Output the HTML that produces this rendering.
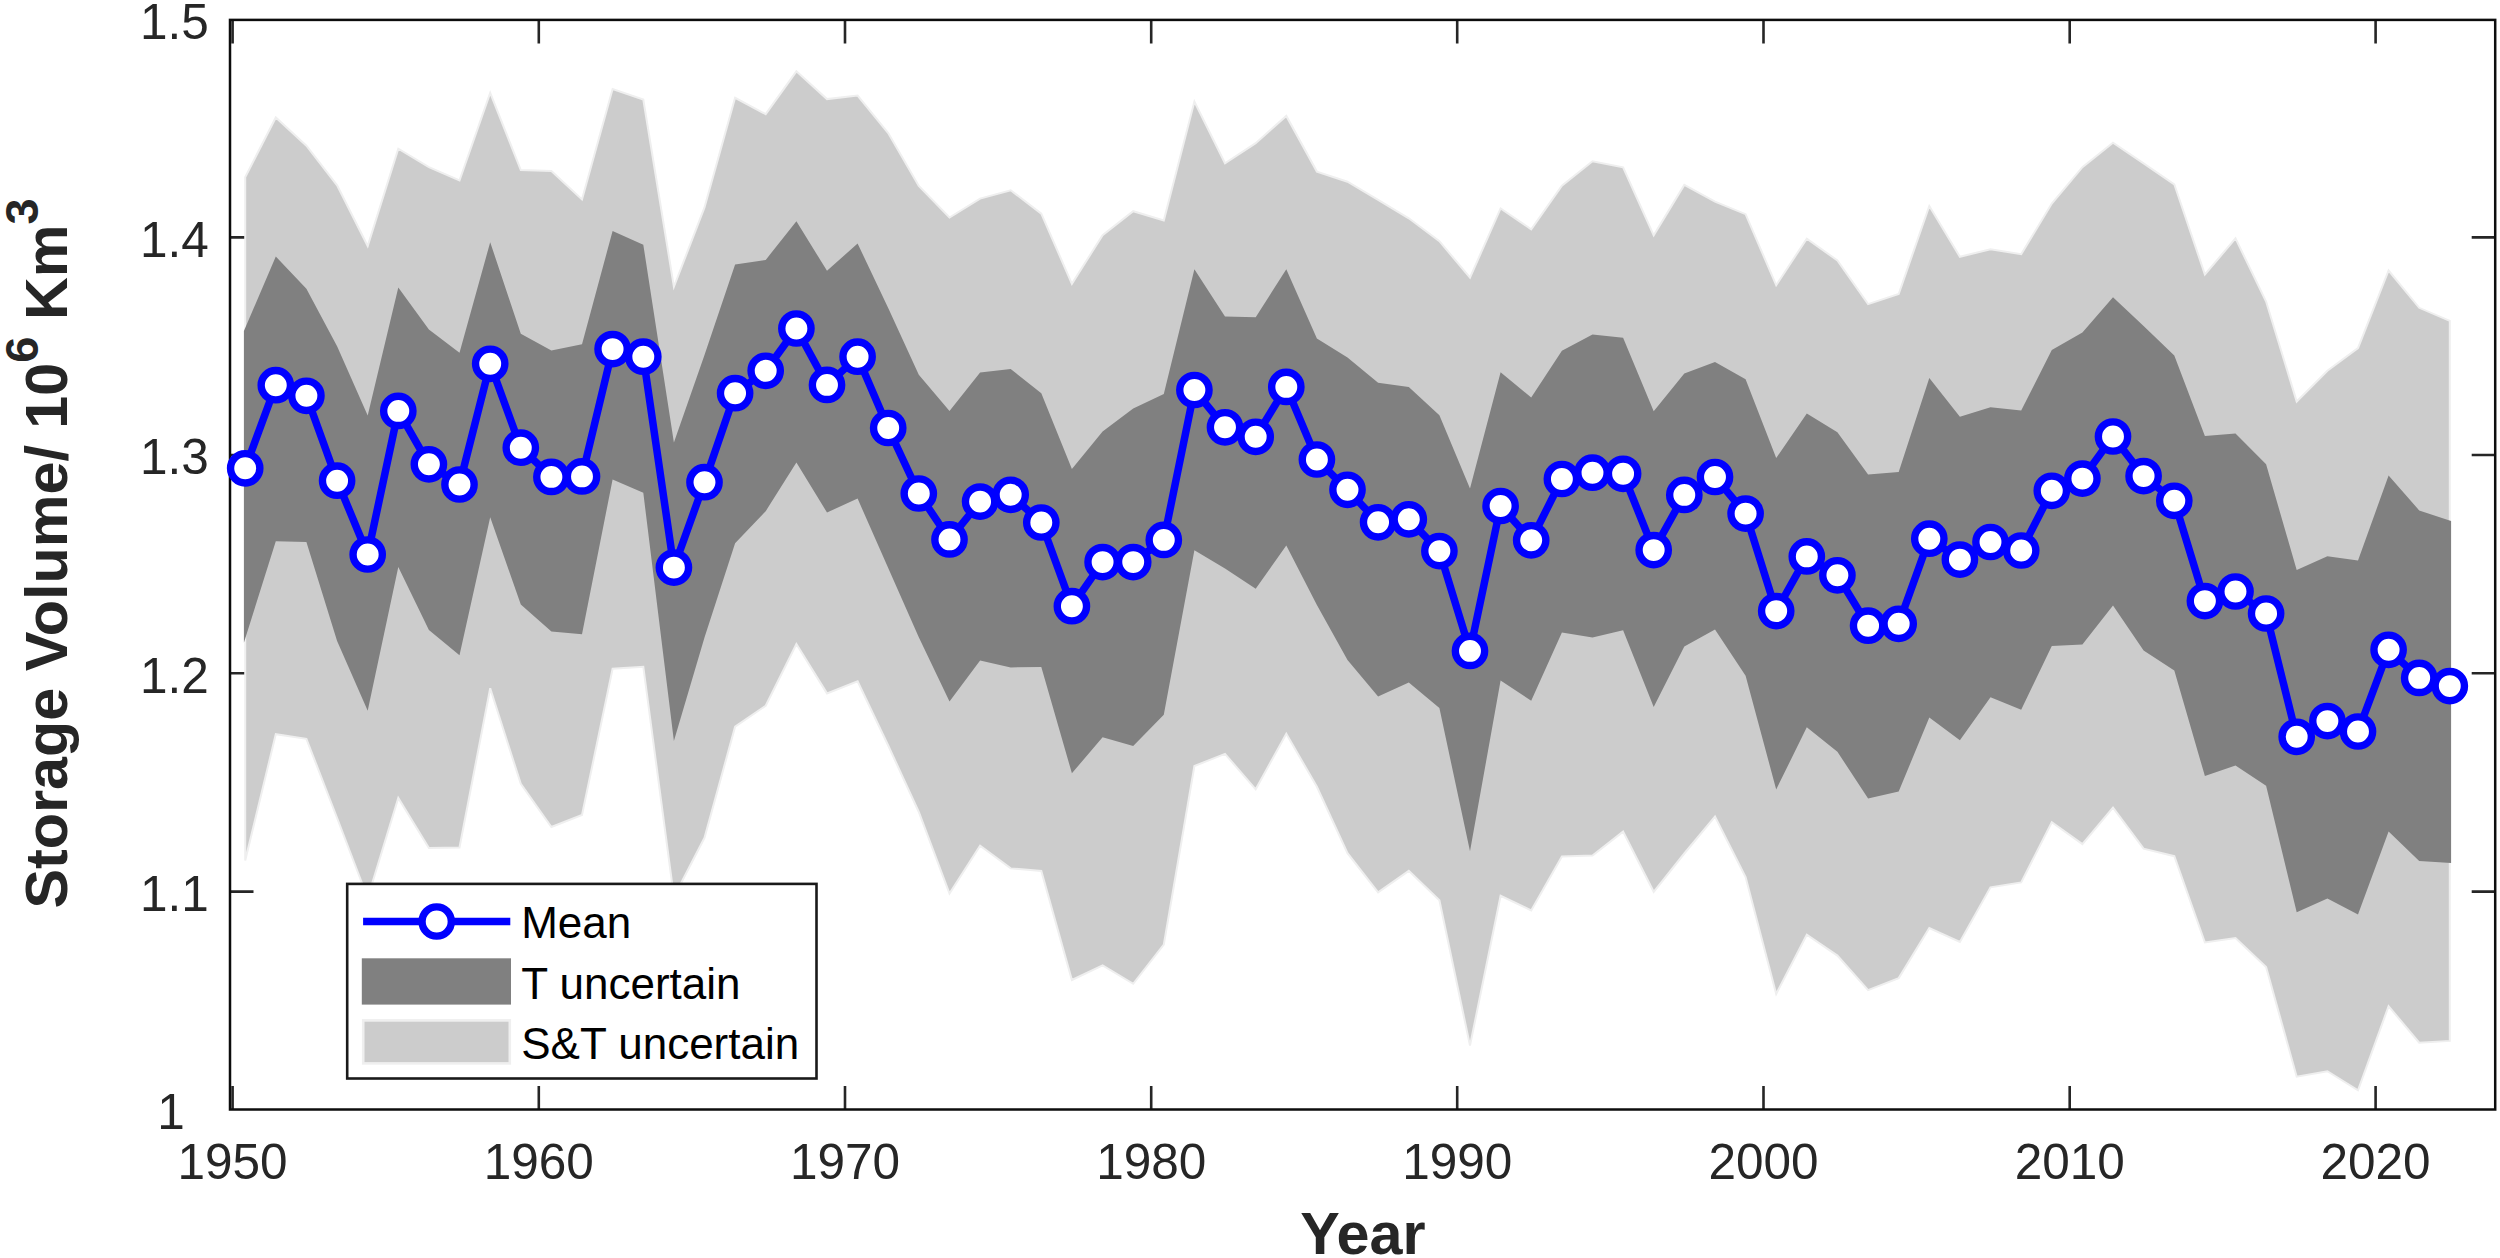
<!DOCTYPE html>
<html lang="en"><head><meta charset="utf-8"><title>Storage Volume</title>
<style>
html,body{margin:0;padding:0;background:#fff;}
body{width:2500px;height:1258px;overflow:hidden;}
svg{display:block;}
text{font-family:"Liberation Sans", sans-serif;fill:#262626;}
.tk{font-size:49.5px;}
.lb{font-size:59.3px;font-weight:bold;}
.lg{font-size:44px;fill:#000;}
</style></head><body>
<svg width="2500" height="1258" viewBox="0 0 2500 1258">
<rect width="2500" height="1258" fill="#fff"/>
<path d="M232.6 1109.5v-23.5M232.6 19.9v23.5M538.8 1109.5v-23.5M538.8 19.9v23.5M845.0 1109.5v-23.5M845.0 19.9v23.5M1151.2 1109.5v-23.5M1151.2 19.9v23.5M1457.2 1109.5v-23.5M1457.2 19.9v23.5M1763.5 1109.5v-23.5M1763.5 19.9v23.5M2069.7 1109.5v-23.5M2069.7 19.9v23.5M2375.6 1109.5v-23.5M2375.6 19.9v23.5M230.0 237.4h23.5M2495.2 237.4h-23.5M230.0 455.0h23.5M2495.2 455.0h-23.5M230.0 673.3h23.5M2495.2 673.3h-23.5M230.0 891.6h23.5M2495.2 891.6h-23.5" stroke="#262626" stroke-width="2.6" fill="none"/>
<polygon points="245.2,177.2 275.8,117.5 306.4,145.7 337.1,185.3 367.7,246.0 398.3,148.7 428.9,167.1 459.5,180.5 490.2,92.8 520.8,170.1 551.4,170.9 582.0,199.4 612.6,89.0 643.3,99.6 673.9,286.8 704.5,207.4 735.1,97.8 765.7,114.2 796.4,71.3 827.0,99.1 857.6,95.5 888.2,133.1 918.8,186.0 949.5,217.5 980.1,198.6 1010.7,190.3 1041.3,213.7 1071.9,283.8 1102.6,235.2 1133.2,211.2 1163.8,220.5 1194.4,101.6 1225.0,163.3 1255.7,143.2 1286.3,115.9 1316.9,171.6 1347.5,181.7 1378.1,199.9 1408.8,218.3 1439.4,241.2 1470.0,277.7 1500.6,208.4 1531.2,229.3 1561.9,185.7 1592.5,161.2 1623.1,167.3 1653.7,235.3 1684.3,184.9 1715.0,201.6 1745.6,214.2 1776.2,285.2 1806.8,238.6 1837.4,260.5 1868.1,304.1 1898.7,294.0 1929.3,206.0 1959.9,256.8 1990.5,249.2 2021.2,254.2 2051.8,203.6 2082.4,167.1 2113.0,142.7 2143.6,163.3 2174.3,184.3 2204.9,274.5 2235.5,238.4 2266.1,301.5 2296.7,401.5 2327.4,370.8 2358.0,348.1 2388.6,270.5 2419.2,307.8 2449.8,320.9 2449.8,1040.9 2419.2,1042.7 2388.6,1006.2 2358.0,1090.3 2327.4,1071.2 2296.7,1076.7 2266.1,967.1 2235.5,938.1 2204.9,942.5 2174.3,856.2 2143.6,848.7 2113.0,807.6 2082.4,844.1 2051.8,822.2 2021.2,882.4 1990.5,887.3 1959.9,942.0 1929.3,928.0 1898.7,978.1 1868.1,990.1 1837.4,955.6 1806.8,934.7 1776.2,993.9 1745.6,877.0 1715.0,816.5 1684.3,853.5 1653.7,891.8 1623.1,831.6 1592.5,855.5 1561.9,856.5 1531.2,910.4 1500.6,895.8 1470.0,1045.6 1439.4,900.3 1408.8,870.9 1378.1,892.3 1347.5,853.2 1316.9,786.8 1286.3,733.7 1255.7,789.3 1225.0,753.9 1194.4,766.0 1163.8,944.7 1133.2,983.8 1102.6,965.4 1071.9,980.0 1041.3,870.9 1010.7,868.4 980.1,845.7 949.5,893.6 918.8,812.0 888.2,745.5 857.6,681.3 827.0,693.4 796.4,644.0 765.7,705.7 735.1,726.7 704.5,837.8 673.9,897.0 643.3,666.7 612.6,668.7 582.0,815.0 551.4,827.0 520.8,783.9 490.2,688.3 459.5,847.4 428.9,847.9 398.3,798.0 367.7,898.0 337.1,818.0 306.4,738.8 275.8,734.2 245.2,860.5" fill="#cccccc" stroke="#efefef" stroke-width="2" stroke-linejoin="miter"/>
<polygon points="243.9,331.0 275.8,256.6 306.4,288.8 337.1,346.3 367.7,415.4 398.3,287.6 428.9,329.4 459.5,352.8 490.2,242.2 520.8,333.7 551.4,350.5 582.0,344.2 612.6,230.9 643.3,244.7 673.9,442.4 704.5,355.0 735.1,264.6 765.7,259.9 796.4,221.3 827.0,270.8 857.6,243.5 888.2,308.0 918.8,374.8 949.5,410.9 980.1,372.4 1010.7,369.1 1041.3,393.2 1071.9,468.9 1102.6,431.6 1133.2,408.4 1163.8,394.0 1194.4,269.2 1225.0,316.5 1255.7,317.3 1286.3,269.2 1316.9,338.5 1347.5,357.4 1378.1,382.7 1408.8,386.9 1439.4,415.2 1470.0,488.4 1500.6,372.2 1531.2,397.5 1561.9,350.8 1592.5,334.4 1623.1,337.7 1653.7,411.3 1684.3,373.4 1715.0,362.1 1745.6,379.2 1776.2,458.1 1806.8,413.6 1837.4,432.2 1868.1,474.5 1898.7,472.0 1929.3,378.1 1959.9,416.8 1990.5,407.3 2021.2,410.6 2051.8,350.0 2082.4,332.4 2113.0,297.2 2143.6,326.0 2174.3,355.6 2204.9,436.0 2235.5,433.6 2266.1,464.3 2296.7,570.1 2327.4,556.3 2358.0,560.5 2388.6,475.6 2419.2,510.4 2451.1,521.0 2451.1,863.0 2419.2,861.0 2388.6,831.5 2358.0,914.4 2327.4,898.4 2296.7,912.2 2266.1,785.7 2235.5,765.5 2204.9,776.1 2174.3,670.6 2143.6,650.5 2113.0,605.4 2082.4,644.5 2051.8,646.0 2021.2,709.8 1990.5,697.2 1959.9,740.2 1929.3,717.4 1898.7,791.6 1868.1,798.6 1837.4,751.7 1806.8,727.3 1776.2,789.5 1745.6,675.8 1715.0,629.5 1684.3,646.6 1653.7,707.1 1623.1,630.2 1592.5,637.4 1561.9,632.4 1531.2,700.8 1500.6,680.6 1470.0,851.3 1439.4,708.1 1408.8,682.5 1378.1,696.4 1347.5,659.9 1316.9,605.0 1286.3,545.4 1255.7,588.7 1225.0,568.5 1194.4,550.2 1163.8,714.8 1133.2,746.1 1102.6,737.2 1071.9,773.3 1041.3,666.9 1010.7,667.4 980.1,660.6 949.5,701.5 918.8,637.2 888.2,568.0 857.6,498.6 827.0,512.5 796.4,462.6 765.7,511.2 735.1,543.2 704.5,637.5 673.9,741.0 643.3,492.8 612.6,479.4 582.0,634.2 551.4,631.4 520.8,604.6 490.2,517.2 459.5,655.3 428.9,630.1 398.3,567.1 367.7,710.8 337.1,641.0 306.4,542.0 275.8,541.3 243.9,642.7" fill="#808080"/>
<rect x="230.0" y="19.9" width="2265.2" height="1089.6" fill="none" stroke="#0d0d0d" stroke-width="2.5"/>
<polyline points="245.2,468.3 275.8,385.2 306.4,395.8 337.1,480.7 367.7,554.5 398.3,410.9 428.9,464.3 459.5,484.5 490.2,363.8 520.8,447.7 551.4,476.9 582.0,476.4 612.6,349.1 643.3,356.7 673.9,567.6 704.5,482.2 735.1,393.2 765.7,370.8 796.4,328.5 827.0,384.9 857.6,356.7 888.2,428.0 918.8,493.5 949.5,539.4 980.1,501.6 1010.7,494.8 1041.3,522.5 1071.9,606.2 1102.6,562.1 1133.2,562.1 1163.8,539.9 1194.4,390.0 1225.0,427.3 1255.7,436.8 1286.3,386.9 1316.9,459.5 1347.5,489.8 1378.1,522.3 1408.8,519.3 1439.4,551.1 1470.0,650.9 1500.6,506.0 1531.2,540.3 1561.9,479.0 1592.5,472.7 1623.1,473.8 1653.7,550.1 1684.3,494.9 1715.0,477.0 1745.6,513.6 1776.2,611.1 1806.8,556.4 1837.4,575.3 1868.1,625.7 1898.7,623.8 1929.3,538.7 1959.9,559.6 1990.5,542.0 2021.2,550.5 2051.8,490.8 2082.4,478.6 2113.0,436.5 2143.6,476.1 2174.3,500.8 2204.9,601.1 2235.5,591.5 2266.1,613.5 2296.7,736.8 2327.4,721.1 2358.0,731.5 2388.6,649.8 2419.2,677.9 2449.8,686.1" fill="none" stroke="#0000ff" stroke-width="7.5" stroke-linejoin="round"/>
<g fill="#fff" stroke="#0000ff" stroke-width="7.4"><circle cx="245.2" cy="468.3" r="14.65"/><circle cx="275.8" cy="385.2" r="14.65"/><circle cx="306.4" cy="395.8" r="14.65"/><circle cx="337.1" cy="480.7" r="14.65"/><circle cx="367.7" cy="554.5" r="14.65"/><circle cx="398.3" cy="410.9" r="14.65"/><circle cx="428.9" cy="464.3" r="14.65"/><circle cx="459.5" cy="484.5" r="14.65"/><circle cx="490.2" cy="363.8" r="14.65"/><circle cx="520.8" cy="447.7" r="14.65"/><circle cx="551.4" cy="476.9" r="14.65"/><circle cx="582.0" cy="476.4" r="14.65"/><circle cx="612.6" cy="349.1" r="14.65"/><circle cx="643.3" cy="356.7" r="14.65"/><circle cx="673.9" cy="567.6" r="14.65"/><circle cx="704.5" cy="482.2" r="14.65"/><circle cx="735.1" cy="393.2" r="14.65"/><circle cx="765.7" cy="370.8" r="14.65"/><circle cx="796.4" cy="328.5" r="14.65"/><circle cx="827.0" cy="384.9" r="14.65"/><circle cx="857.6" cy="356.7" r="14.65"/><circle cx="888.2" cy="428.0" r="14.65"/><circle cx="918.8" cy="493.5" r="14.65"/><circle cx="949.5" cy="539.4" r="14.65"/><circle cx="980.1" cy="501.6" r="14.65"/><circle cx="1010.7" cy="494.8" r="14.65"/><circle cx="1041.3" cy="522.5" r="14.65"/><circle cx="1071.9" cy="606.2" r="14.65"/><circle cx="1102.6" cy="562.1" r="14.65"/><circle cx="1133.2" cy="562.1" r="14.65"/><circle cx="1163.8" cy="539.9" r="14.65"/><circle cx="1194.4" cy="390.0" r="14.65"/><circle cx="1225.0" cy="427.3" r="14.65"/><circle cx="1255.7" cy="436.8" r="14.65"/><circle cx="1286.3" cy="386.9" r="14.65"/><circle cx="1316.9" cy="459.5" r="14.65"/><circle cx="1347.5" cy="489.8" r="14.65"/><circle cx="1378.1" cy="522.3" r="14.65"/><circle cx="1408.8" cy="519.3" r="14.65"/><circle cx="1439.4" cy="551.1" r="14.65"/><circle cx="1470.0" cy="650.9" r="14.65"/><circle cx="1500.6" cy="506.0" r="14.65"/><circle cx="1531.2" cy="540.3" r="14.65"/><circle cx="1561.9" cy="479.0" r="14.65"/><circle cx="1592.5" cy="472.7" r="14.65"/><circle cx="1623.1" cy="473.8" r="14.65"/><circle cx="1653.7" cy="550.1" r="14.65"/><circle cx="1684.3" cy="494.9" r="14.65"/><circle cx="1715.0" cy="477.0" r="14.65"/><circle cx="1745.6" cy="513.6" r="14.65"/><circle cx="1776.2" cy="611.1" r="14.65"/><circle cx="1806.8" cy="556.4" r="14.65"/><circle cx="1837.4" cy="575.3" r="14.65"/><circle cx="1868.1" cy="625.7" r="14.65"/><circle cx="1898.7" cy="623.8" r="14.65"/><circle cx="1929.3" cy="538.7" r="14.65"/><circle cx="1959.9" cy="559.6" r="14.65"/><circle cx="1990.5" cy="542.0" r="14.65"/><circle cx="2021.2" cy="550.5" r="14.65"/><circle cx="2051.8" cy="490.8" r="14.65"/><circle cx="2082.4" cy="478.6" r="14.65"/><circle cx="2113.0" cy="436.5" r="14.65"/><circle cx="2143.6" cy="476.1" r="14.65"/><circle cx="2174.3" cy="500.8" r="14.65"/><circle cx="2204.9" cy="601.1" r="14.65"/><circle cx="2235.5" cy="591.5" r="14.65"/><circle cx="2266.1" cy="613.5" r="14.65"/><circle cx="2296.7" cy="736.8" r="14.65"/><circle cx="2327.4" cy="721.1" r="14.65"/><circle cx="2358.0" cy="731.5" r="14.65"/><circle cx="2388.6" cy="649.8" r="14.65"/><circle cx="2419.2" cy="677.9" r="14.65"/><circle cx="2449.8" cy="686.1" r="14.65"/></g>
<text class="tk" x="232.6" y="1179" text-anchor="middle">1950</text>
<text class="tk" x="538.8" y="1179" text-anchor="middle">1960</text>
<text class="tk" x="845.0" y="1179" text-anchor="middle">1970</text>
<text class="tk" x="1151.2" y="1179" text-anchor="middle">1980</text>
<text class="tk" x="1457.2" y="1179" text-anchor="middle">1990</text>
<text class="tk" x="1763.5" y="1179" text-anchor="middle">2000</text>
<text class="tk" x="2069.7" y="1179" text-anchor="middle">2010</text>
<text class="tk" x="2375.6" y="1179" text-anchor="middle">2020</text>
<text class="tk" x="208.8" y="39.3" text-anchor="end">1.5</text>
<text class="tk" x="208.8" y="256.8" text-anchor="end">1.4</text>
<text class="tk" x="208.8" y="474.4" text-anchor="end">1.3</text>
<text class="tk" x="208.8" y="692.7" text-anchor="end">1.2</text>
<text class="tk" x="208.8" y="911.0" text-anchor="end">1.1</text>
<text class="tk" x="157.3" y="1128.9">1</text>
<text class="lb" x="1363" y="1254" text-anchor="middle">Year</text>
<text class="lb" transform="translate(67,908.6) rotate(-90)" x="0" y="0">Storage Volume/ 10<tspan font-size="47" dy="-28.8">6</tspan><tspan dy="28.8"> Km</tspan><tspan font-size="47" dy="-28.8">3</tspan></text>
<rect x="347.2" y="883.9" width="469.3" height="194.60000000000002" fill="#fff" stroke="#1a1a1a" stroke-width="2.6"/>
<line x1="363.1" y1="921.5" x2="510.3" y2="921.5" stroke="#0000ff" stroke-width="7.6"/>
<circle cx="436.7" cy="921.5" r="14.65" fill="#fff" stroke="#0000ff" stroke-width="7.4"/>
<rect x="361.8" y="958.3" width="149.2" height="46.3" fill="#808080"/>
<rect x="363.2" y="1020.4" width="146.6" height="43" fill="#cccccc" stroke="#efefef" stroke-width="2.6"/>
<text class="lg" x="521.2" y="938.1">Mean</text>
<text class="lg" x="521.2" y="999.1">T uncertain</text>
<text class="lg" x="521.2" y="1059.1">S&amp;T uncertain</text>
</svg></body></html>
